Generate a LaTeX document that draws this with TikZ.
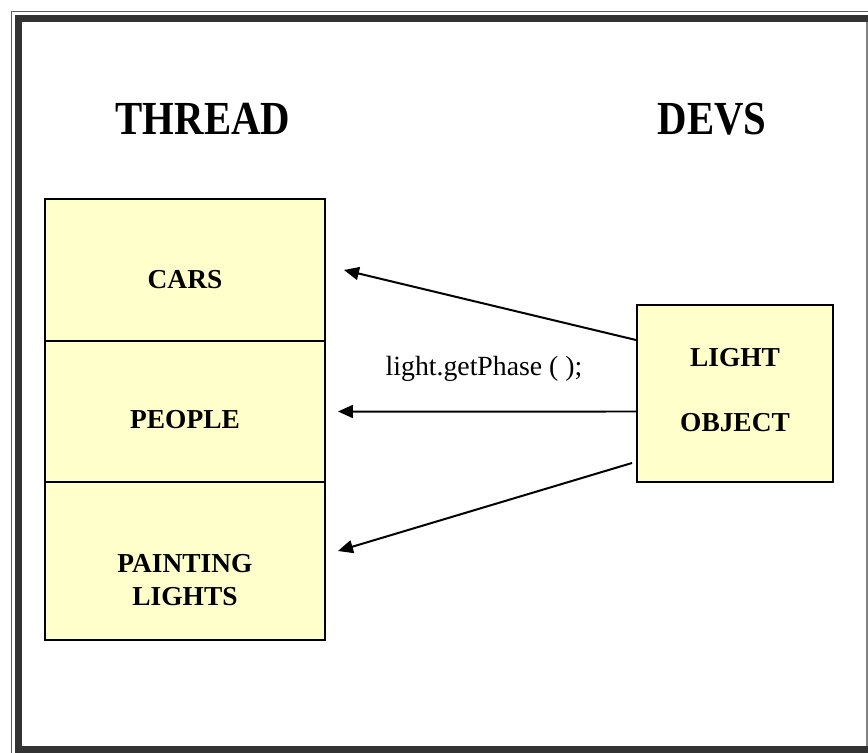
\documentclass[tikz,border=0pt]{standalone}
\usepackage{graphicx}
\usepackage{fontspec}
\setmainfont{Liberation Serif}
\usetikzlibrary{arrows.meta}
\definecolor{paleyellow}{HTML}{FFFFCC}
\definecolor{framegray}{HTML}{333333}

\begin{document}
\begin{tikzpicture}[x=0.02cm, y=-0.02cm, >={Triangle[length=0.3cm, width=0.26cm]},
		unit/.style={rectangle, draw=black, fill=paleyellow, line width=0.04cm, inner sep=0pt, minimum width=5.6cm},
		obj/.style={rectangle, draw=black, fill=paleyellow, line width=0.04cm, inner sep=0pt, minimum width=3.92cm, minimum height=3.54cm},
		boxtext/.style={font=\fontsize{15.6}{18.7}\selectfont\bfseries, align=center},
		title/.style={font=\fontsize{27}{32}\selectfont\bfseries, inner sep=0pt},
		call/.style={->, line width=0.04cm}]
		
		\useasboundingbox (0,0) rectangle (868,753);
		% frame
		\draw[framegray!80, line width=0.03cm] (11.5,753) |- (868,11.5);
		\draw[framegray, line width=0.14cm] (18.5,753) |- (868,18.5);
		\draw[framegray, line width=0.14cm] (18.5,749.5) -- (868,749.5);
		\draw[gray, line width=0.03cm] (867,22) -- (867,746);
		
		\node[title] (thread) at (203,119) {\scalebox{0.86}[1]{THREAD}};
		\node[title] (devs) at (712,119) {\scalebox{0.86}[1]{DEVS}};
		
		\node[unit, minimum height=2.84cm] (cars) at (185,270) {};
		\node[unit, minimum height=2.82cm] (people) at (185,411.5) {};
		\node[unit, minimum height=3.16cm] (painting) at (185,561) {};
		\node[obj] (light) at (735,393.5) {};
		
		\node[boxtext] (carsT) at (185,279.5) {CARS};
		\node[boxtext] (peopleT) at (185,420) {PEOPLE};
		\node[boxtext] (paintingT) at (185,580) {PAINTING\\LIGHTS};
		\node[boxtext] (lightT) at (735,357.5) {LIGHT};
		\node[boxtext] (objectT) at (735,422.5) {OBJECT};
		
		\draw[call] ([yshift=1.07cm]light.west) -- ([xshift=0.36cm]cars.east);
		\draw[call] ([yshift=-0.36cm]light.west) -- ([xshift=0.24cm]people.east);
		\draw[call] ([xshift=-0.08cm, yshift=-1.39cm]light.west) -- ([xshift=0.24cm, yshift=0.2cm]painting.east);
		
		\node[font=\fontsize{15.8}{19}\selectfont, anchor=base] (getphase) at (484,375) {light.getPhase ( );};
		
	\end{tikzpicture}
\end{document}
